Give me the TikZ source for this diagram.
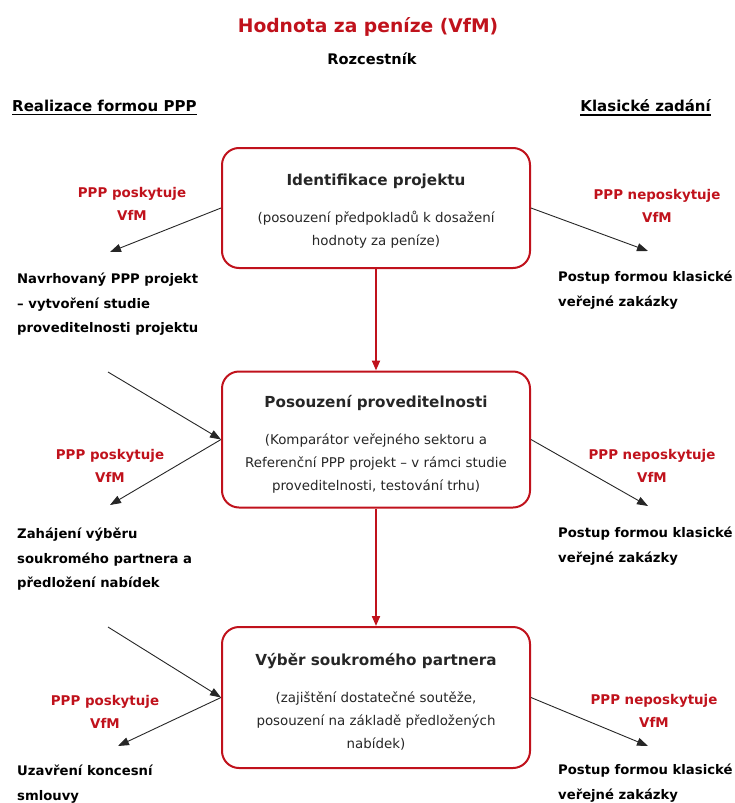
\documentclass[tikz,border=0pt]{standalone}
\usepackage{fontspec}
\setmainfont{DejaVu Sans}
\usepackage{tikz}
\usetikzlibrary{arrows.meta}
\definecolor{vfmred}{RGB}{192,18,28}

\begin{document}
\begin{tikzpicture}[x=1pt, y=-1pt,
    phase/.style={draw=vfmred, line width=2pt, rounded corners=17pt,
      minimum width=308pt, inner sep=0pt, align=center,
      font=\fontsize{13.4}{23}\selectfont, text=black!85},
    verdict/.style={text=vfmred, align=center, inner sep=0pt,
      font=\fontsize{13.4}{23}\selectfont\bfseries},
    outcome/.style={align=left, inner sep=0pt, anchor=north west,
      font=\fontsize{13.2}{24.5}\selectfont\bfseries},
    heading/.style={inner sep=0pt, font=\fontsize{15}{18}\selectfont\bfseries},
    flow/.style={vfmred, line width=2pt, -{Triangle[length=10pt,width=8pt]}},
    branch/.style={black!85, line width=0.9pt, -{Triangle[length=11pt,width=8pt]}}]
  \useasboundingbox (0,0) rectangle (735,803);

  \node[text=vfmred, font=\fontsize{18.7}{22}\selectfont\bfseries] (title) at (368,27) {Hodnota za peníze (VfM)};
  \node[font=\fontsize{14.6}{17}\selectfont\bfseries] (guide) at (372,59) {Rozcestník};
  \node[heading, anchor=west] (ppphead) at (12,106) {Realizace formou PPP};
  \node[heading, anchor=east] (classhead) at (711,106) {Klasické zadání};
  \draw[line width=1.6pt] ([yshift=-3pt]ppphead.base west) -- ([yshift=-3pt]ppphead.base east);
  \draw[line width=1.6pt] ([yshift=-3pt]classhead.base west) -- ([yshift=-3pt]classhead.base east);

  \node[phase, minimum height=120pt] (ident) at (376,208)
    {\rule{0pt}{17pt}{\fontsize{15.2}{18}\selectfont\bfseries Identifikace projektu}\\[14pt]
     (posouzení předpokladů k dosažení\\hodnoty za peníze)};
  \node[phase, minimum height=136pt] (feas) at (376,439.5)
    {\rule{0pt}{22pt}{\fontsize{15.2}{18}\selectfont\bfseries Posouzení proveditelnosti}\\[14pt]
     (Komparátor veřejného sektoru a\\Referenční PPP projekt – v rámci studie\\proveditelnosti, testování trhu)};
  \node[phase, minimum height=141pt] (select) at (376,697.5)
    {\rule{0pt}{20pt}{\fontsize{15.2}{18}\selectfont\bfseries Výběr soukromého partnera}\\[14pt]
     (zajištění dostatečné soutěže,\\posouzení na základě předložených\\nabídek)};

  \draw[flow] (ident) -- (feas);
  \draw[flow] (feas) -- (select);

  \node[verdict] (yes1) at (132,203.5) {PPP poskytuje\\VfM};
  \node[verdict] (no1) at (657,206) {PPP neposkytuje\\VfM};
  \node[verdict] (yes2) at (110,466) {PPP poskytuje\\VfM};
  \node[verdict] (no2) at (652,465.5) {PPP neposkytuje\\VfM};
  \node[verdict] (yes3) at (105,711.5) {PPP poskytuje\\VfM};
  \node[verdict] (no3) at (654,710.5) {PPP neposkytuje\\VfM};

  \node[outcome] (ppp1) at (17,273) {Navrhovaný PPP projekt\\– vytvoření studie\\proveditelnosti projektu};
  \node[outcome] (ppp2) at (17,528) {Zahájení výběru\\soukromého partnera a\\předložení nabídek};
  \node[outcome] (ppp3) at (17,765) {Uzavření koncesní\\smlouvy};
  \node[outcome] (cls1) at (558,271) {Postup formou klasické\\veřejné zakázky};
  \node[outcome] (cls2) at (558,527) {Postup formou klasické\\veřejné zakázky};
  \node[outcome] (cls3) at (558,764) {Postup formou klasické\\veřejné zakázky};

  \coordinate (l1) at (110,252);
  \coordinate (r1) at (648,251);
  \coordinate (in2) at (108,372);
  \coordinate (l2) at (110,505);
  \coordinate (r2) at (648,506);
  \coordinate (in3) at (108,627);
  \coordinate (l3) at (118,746);
  \coordinate (r3) at (648,746);

  \draw[branch] (ident.west) -- (l1);
  \draw[branch] (ident.east) -- (r1);
  \draw[branch] (in2) -- (feas.west);
  \draw[branch] (feas.west) -- (l2);
  \draw[branch] (feas.east) -- (r2);
  \draw[branch] (in3) -- (select.west);
  \draw[branch] (select.west) -- (l3);
  \draw[branch] (select.east) -- (r3);
\end{tikzpicture}
\end{document}
